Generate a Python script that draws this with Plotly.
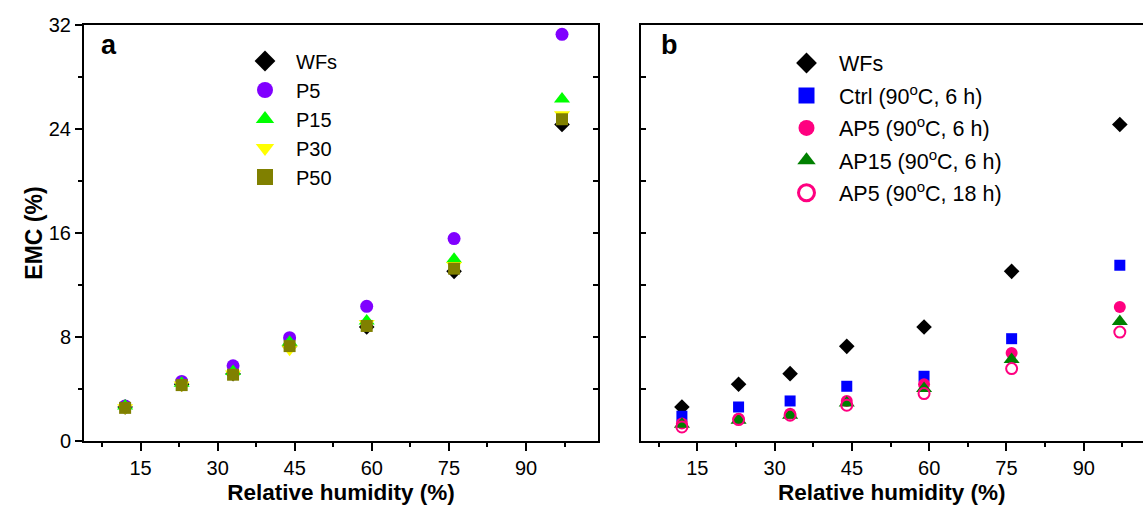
import plotly.graph_objects as go

# Relative humidity levels (%)
rh = [12, 23, 33, 44, 59, 76, 97]

# Panel a: EMC (%) of wood flours and P-series
emc_wfs = [2.62, 4.36, 5.18, 7.28, 8.77, 13.05, 24.35]
emc_p5 = [2.70, 4.58, 5.78, 7.95, 10.36, 15.57, 31.28]
emc_p15 = [2.70, 4.45, 5.35, 7.60, 9.23, 13.98, 26.30]
emc_p30 = [2.55, 4.30, 5.15, 7.05, 9.03, 13.50, 25.10]
emc_p50 = [2.55, 4.30, 5.10, 7.30, 8.85, 13.26, 24.75]

# Panel b: EMC (%) of treated samples
emc_ctrl = [1.90, 2.62, 3.08, 4.21, 4.98, 7.87, 13.52]
emc_ap5_6h = [1.34, 1.72, 2.10, 3.08, 4.36, 6.77, 10.30]
emc_ap15_6h = [1.28, 1.60, 1.98, 2.92, 4.03, 6.26, 9.20]
emc_ap5_18h = [1.08, 1.65, 1.98, 2.75, 3.65, 5.57, 8.38]

W, H = 1143, 506
FONT = "Liberation Sans, Arial, sans-serif"

fig = go.Figure()


def add_series(x, y, name, symbol, color, size, xa, ya, legend, group, open_line=0):
    mk = dict(symbol=symbol, color=color, size=size, line=dict(width=open_line, color=color))
    fig.add_trace(go.Scatter(x=x, y=y, mode="markers", marker=mk, xaxis=xa, yaxis=ya,
                             showlegend=False, name=name, legendgroup=group))
    # legend entry with a larger symbol
    lmk = dict(symbol=symbol, color=color, size=16,
               line=dict(width=3 if open_line else 0, color=color))
    fig.add_trace(go.Scatter(x=[None], y=[None], mode="markers", marker=lmk, xaxis=xa, yaxis=ya,
                             name=name, legend=legend, legendgroup=group, showlegend=True))


# panel a
add_series(rh, emc_wfs, "WFs", "diamond", "#000000", 12, "x", "y", "legend", "a1")
add_series(rh, emc_p5, "P5", "circle", "#8000FF", 13, "x", "y", "legend", "a2")
add_series(rh, emc_p15, "P15", "triangle-up", "#00FF00", 14, "x", "y", "legend", "a3")
add_series(rh, emc_p30, "P30", "triangle-down", "#FFFF00", 14, "x", "y", "legend", "a4")
add_series(rh, emc_p50, "P50", "square", "#808000", 12, "x", "y", "legend", "a5")

# panel b
add_series(rh, emc_wfs, "WFs", "diamond", "#000000", 12, "x2", "y2", "legend2", "b1")
add_series(rh, emc_ctrl, "Ctrl (90<sup>o</sup>C, 6 h)", "square", "#0000FF", 11, "x2", "y2",
           "legend2", "b2")
add_series(rh, emc_ap5_6h, "AP5 (90<sup>o</sup>C, 6 h)", "circle", "#FF0080", 12, "x2", "y2",
           "legend2", "b3")
add_series(rh, emc_ap15_6h, "AP15 (90<sup>o</sup>C, 6 h)", "triangle-up", "#008000", 14, "x2", "y2",
           "legend2", "b4")
add_series(rh, emc_ap5_18h, "AP5 (90<sup>o</sup>C, 18 h)", "circle-open", "#FF0080", 11, "x2", "y2",
           "legend2", "b5", open_line=2)

tickfont = dict(family=FONT, size=20, color="black")

xcommon = dict(range=[4, 104], dtick=15, tick0=0, ticks="outside", ticklen=8, tickwidth=1.5,
               tickcolor="black", showline=True, linewidth=2, linecolor="black", mirror=True,
               showgrid=False, zeroline=False, tickfont=tickfont,
               minor=dict(dtick=7.5, tick0=0, ticks="outside", ticklen=4, tickwidth=1.5,
                          tickcolor="black"))
xtitle = dict(text="<b>Relative humidity (%)</b>", font=dict(family=FONT, size=22.5, color="black"),
              standoff=6)

pa_left, pa_right = 84 / W, 598 / W
pb_left = 640.7 / W

fig.update_layout(
    width=W, height=H,
    margin=dict(l=0, r=0, t=25, b=65),
    paper_bgcolor="white", plot_bgcolor="white",
    font=dict(family=FONT, color="black"),
    xaxis=dict(xcommon, domain=[pa_left, pa_right], anchor="y", title=xtitle),
    xaxis2=dict(xcommon, range=[4, 101.5], domain=[pb_left, 1], anchor="y2", title=xtitle),
    yaxis=dict(range=[0, 32], dtick=8, tick0=0, ticks="outside", ticklen=7, tickwidth=1.5,
               tickcolor="black", showline=True, linewidth=2, linecolor="black", mirror=True,
               showgrid=False, zeroline=False, tickfont=tickfont, anchor="x",
               minor=dict(dtick=4, ticks="outside", ticklen=4, tickwidth=1.5, tickcolor="black"),
               title=dict(text="<b>EMC (%)</b>", font=dict(family=FONT, size=23, color="black"),
                          standoff=0)),
    # inward ticks along the right edge of panel a
    yaxis3=dict(range=[0, 32], dtick=8, tick0=0, overlaying="y", side="right", anchor="x",
                ticks="inside", ticklen=5, tickwidth=1.5, tickcolor="black",
                showticklabels=False, showline=False, showgrid=False, zeroline=False,
                minor=dict(dtick=4, ticks="inside", ticklen=5, tickwidth=1.5, tickcolor="black")),
    yaxis2=dict(range=[0, 32], dtick=8, tick0=0, anchor="x2", ticks="inside", ticklen=5,
                tickwidth=1.5, tickcolor="black", showticklabels=False, showline=True,
                linewidth=2, linecolor="black", mirror=False, showgrid=False, zeroline=False,
                minor=dict(dtick=4, ticks="inside", ticklen=5, tickwidth=1.5, tickcolor="black")),
    legend=dict(x=234 / W, y=(441 - 41.5) / 416, xanchor="left", yanchor="top",
                bgcolor="rgba(0,0,0,0)", borderwidth=0, itemwidth=52, traceorder="grouped",
                font=dict(family=FONT, size=20, color="black"), tracegroupgap=0),
    legend2=dict(x=774 / W, y=(441 - 42.5) / 416, xanchor="left", yanchor="top",
                 bgcolor="rgba(0,0,0,0)", borderwidth=0, itemwidth=55, traceorder="grouped",
                 font=dict(family=FONT, size=21.5, color="black"), tracegroupgap=1.5),
    annotations=[
        dict(text="<b>a</b>", x=109 / W, y=(441 - 45) / 416, xref="paper", yref="paper",
             showarrow=False, font=dict(family=FONT, size=27, color="black"),
             xanchor="center", yanchor="middle"),
        dict(text="<b>b</b>", x=669.6 / W, y=(441 - 45) / 416, xref="paper", yref="paper",
             showarrow=False, font=dict(family=FONT, size=27, color="black"),
             xanchor="center", yanchor="middle"),
    ],
)

# keep the overlay axis alive with an empty trace
fig.add_trace(go.Scatter(x=[None], y=[None], xaxis="x", yaxis="y3", showlegend=False,
                         hoverinfo="skip"))

fig.write_html("out.html")
